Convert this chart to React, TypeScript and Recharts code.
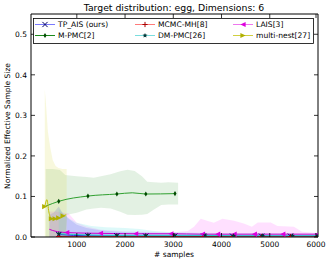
import React from 'react';
import { ComposedChart, Line, Area, XAxis, YAxis } from 'recharts';

const W = 332;
const H = 263;
const MARGIN = { top: 13, right: 13, bottom: 25, left: 30 };
const FONT = '"DejaVu Sans", sans-serif';

const xTicks = [1000, 2000, 3000, 4000, 5000, 6000];
const yTicks = [0, 0.1, 0.2, 0.3, 0.4, 0.5];
const xDomain = [50, 6000];
const yDomain = [0, 0.55];

// ---------- series values ----------
const tpX = [625, 1230, 1830, 2430, 3030, 3630, 4230, 4830, 5430, 6000];
const tpY = [0.006, 0.003, 0.003, 0.002, 0.002, 0.002, 0.002, 0.002, 0.002, 0.002];
const tpBandX = [430, 520, 625, 700, 830, 1000, 1200, 1500, 2000, 3000, 4000, 5000, 6000];
const tpBandHi = [0.055, 0.06, 0.075, 0.06, 0.045, 0.03, 0.022, 0.016, 0.012, 0.009, 0.007, 0.006, 0.005];

const mcmcX = [625, 1230, 1830, 2430, 3030, 3630, 4230, 4830, 5430, 6000];
const mcmcY = [0.001, 0.001, 0.001, 0.001, 0.001, 0.001, 0.001, 0.001, 0.001, 0.001];
const mcmcBandHi = [0.004, 0.003, 0.003, 0.003, 0.003, 0.003, 0.003, 0.003, 0.003, 0.003];

const laisX = [430, 500, 600, 790, 1000, 1490, 2220, 2950, 3605, 3920, 4260, 4680, 5270, 6000];
const laisY = [0.019, 0.016, 0.013, 0.011, 0.01, 0.009, 0.008, 0.008, 0.007, 0.007, 0.007, 0.007, 0.007, 0.007];
const laisMarks = [false, false, false, true, false, true, true, true, true, true, true, true, true, true];
const laisBandX = [430, 600, 830, 1000, 1200, 1500, 2000, 2500, 3000, 3300, 3430, 3570, 3700, 3840, 4020, 4260, 4460, 4630, 4750, 5020, 5160, 5500, 5670, 6000];
const laisBandHi = [0.063, 0.062, 0.058, 0.035, 0.026, 0.018, 0.014, 0.013, 0.012, 0.015, 0.025, 0.045, 0.04, 0.035, 0.045, 0.04, 0.033, 0.025, 0.036, 0.036, 0.027, 0.025, 0.013, 0.01];

const mpmcX = [355, 625, 1230, 1830, 2150, 2430, 3035];
const mpmcY = [0.076, 0.088, 0.101, 0.106, 0.109, 0.106, 0.107];
const mpmcMarks = [false, true, true, true, false, true, true];
const mpmcBandX = [355, 500, 650, 760, 800, 1000, 1200, 1350, 1500, 1700, 1900, 2050, 2200, 2350, 2460, 2600, 2750, 2900, 3100];
const mpmcBandHi = [0.168, 0.168, 0.165, 0.153, 0.152, 0.15, 0.148, 0.146, 0.15, 0.155, 0.162, 0.166, 0.163, 0.15, 0.136, 0.135, 0.134, 0.135, 0.134];
const mpmcBandLo = [0, 0, 0, 0, 0.055, 0.06, 0.068, 0.07, 0.072, 0.07, 0.062, 0.055, 0.054, 0.055, 0.057, 0.068, 0.079, 0.08, 0.08];

const dmX = [625, 1230, 1830, 2430, 3030, 3660, 4250, 4850, 5470, 6000];
const dmY = [0.008, 0.005, 0.004, 0.004, 0.004, 0.004, 0.003, 0.003, 0.003, 0.003];
const dmBandX = [625, 700, 850, 1000, 1300, 1600, 2000, 2300, 2600, 3000, 4000, 5000, 6000];
const dmBandHi = [0.07, 0.06, 0.045, 0.035, 0.027, 0.024, 0.022, 0.02, 0.015, 0.012, 0.01, 0.01, 0.008];

const mnX = [335, 380, 420, 473, 550, 625, 715, 780];
const mnY = [0.075, 0.092, 0.062, 0.045, 0.045, 0.047, 0.052, 0.055];
const mnMarks = [true, false, false, true, true, true, true, false];
const mnBandX = [335, 360, 400, 450, 500, 560, 620, 700, 790];
const mnBandHi = [0.365, 0.33, 0.26, 0.22, 0.19, 0.175, 0.17, 0.168, 0.168];

// ---------- helpers ----------
const pts = (xs: number[], ys: number[], marks?: boolean[]) =>
  xs.map((x, i) => ({ x, y: ys[i], m: marks ? marks[i] : true }));
const band = (xs: number[], hi: number[], lo?: number[]) =>
  xs.map((x, i) => ({ x, band: [lo ? lo[i] : 0, hi[i]] }));

type Shape = 'x' | '+' | '<' | '>' | 'd' | '*';

const Marker = ({ shape, cx, cy, color, s = 2.6 }: { shape: Shape; cx: number; cy: number; color: string; s?: number }) => {
  if (shape === 'x')
    return (
      <g stroke={color} strokeWidth={1}>
        <line x1={cx - s} y1={cy - s} x2={cx + s} y2={cy + s} />
        <line x1={cx - s} y1={cy + s} x2={cx + s} y2={cy - s} />
      </g>
    );
  if (shape === '+')
    return (
      <g stroke={color} strokeWidth={1}>
        <line x1={cx - s} y1={cy} x2={cx + s} y2={cy} />
        <line x1={cx} y1={cy - s} x2={cx} y2={cy + s} />
      </g>
    );
  if (shape === '<')
    return <polygon points={`${cx - s},${cy} ${cx + s},${cy - s} ${cx + s},${cy + s}`} fill={color} />;
  if (shape === '>')
    return <polygon points={`${cx + s},${cy} ${cx - s},${cy - s} ${cx - s},${cy + s}`} fill={color} />;
  if (shape === 'd')
    return <polygon points={`${cx},${cy - s} ${cx + s * 0.6},${cy} ${cx},${cy + s} ${cx - s * 0.6},${cy}`} fill={color} />;
  const p: string[] = [];
  for (let i = 0; i < 10; i++) {
    const r = i % 2 === 0 ? s : s * 0.45;
    const a = -Math.PI / 2 + (i * Math.PI) / 5;
    p.push(`${cx + r * Math.cos(a)},${cy + r * Math.sin(a)}`);
  }
  return <polygon points={p.join(' ')} fill={color} />;
};

const dotFn = (shape: Shape, color: string) => (p: any) => {
  const { cx, cy, payload, index } = p;
  if (!payload || !payload.m || cx == null || cy == null) return <g key={`d${index}`} />;
  return (
    <g key={`d${index}`}>
      <Marker shape={shape} cx={cx} cy={cy} color={color} />
    </g>
  );
};

const series = [
  { name: 'TP_AIS (ours)', line: '#2a2ad0', legend: '#7a7aff', marker: '#000066', shape: 'x' as Shape, data: pts(tpX, tpY), band: band(tpBandX, tpBandHi), bandFill: '#3030ff', bandOp: 0.18 },
  { name: 'MCMC-MH[8]', line: '#e03030', legend: '#ff7a7a', marker: '#aa0000', shape: '+' as Shape, data: pts(mcmcX, mcmcY), band: band(mcmcX, mcmcBandHi), bandFill: '#ff3030', bandOp: 0.15 },
  { name: 'LAIS[3]', line: '#cc00cc', legend: '#ee77ee', marker: '#dd00dd', shape: '<' as Shape, data: pts(laisX, laisY, laisMarks), band: band(laisBandX, laisBandHi), bandFill: '#ff40ff', bandOp: 0.16 },
  { name: 'M-PMC[2]', line: '#30a030', legend: '#1a8a1a', marker: '#004a00', shape: 'd' as Shape, data: pts(mpmcX, mpmcY, mpmcMarks), band: band(mpmcBandX, mpmcBandHi, mpmcBandLo), bandFill: '#40a040', bandOp: 0.15 },
  { name: 'DM-PMC[26]', line: '#20c8c8', legend: '#7adede', marker: '#003838', shape: '*' as Shape, data: pts(dmX, dmY), band: band(dmBandX, dmBandHi), bandFill: '#40e0e0', bandOp: 0.18 },
  { name: 'multi-nest[27]', line: '#c0c000', legend: '#d0d040', marker: '#b0b000', shape: '>' as Shape, data: pts(mnX, mnY, mnMarks), band: band(mnBandX, mnBandHi), bandFill: '#d8d840', bandOp: 0.18 },
];

// ---------- ticks ----------
const BottomTick = (p: any) => (
  <g>
    <line x1={p.x} y1={p.y} x2={p.x} y2={p.y - 4} stroke="#000" strokeWidth={0.8} />
    <text x={p.x} y={p.y + 10} textAnchor="middle" fontSize={7.5} fontFamily={FONT} fill="#000">
      {p.payload.value}
    </text>
  </g>
);
const TopTick = (p: any) => <line x1={p.x} y1={p.y} x2={p.x} y2={p.y + 4} stroke="#000" strokeWidth={0.8} />;
const LeftTick = (p: any) => (
  <g>
    <line x1={p.x} y1={p.y} x2={p.x + 4} y2={p.y} stroke="#000" strokeWidth={0.8} />
    <text x={p.x - 4} y={p.y + 2.7} textAnchor="end" fontSize={7.5} fontFamily={FONT} fill="#000">
      {Number(p.payload.value).toFixed(1)}
    </text>
  </g>
);
const RightTick = (p: any) => <line x1={p.x} y1={p.y} x2={p.x - 4} y2={p.y} stroke="#000" strokeWidth={0.8} />;

const legendCols = [35, 135, 233];
const legendRows = [24.5, 35.5];

export default function App() {
  return (
    <div style={{ position: 'absolute', left: 0, top: 0, width: W, height: H, background: '#fff' }}>
      <ComposedChart width={W} height={H} margin={MARGIN}>
        <XAxis xAxisId="b" dataKey="x" type="number" domain={xDomain} ticks={xTicks} allowDataOverflow
          orientation="bottom" height={1} tickSize={0} tickMargin={0} tick={<BottomTick />} axisLine={{ stroke: '#000', strokeWidth: 1 }} tickLine={false} />
        <XAxis xAxisId="t" dataKey="x" type="number" domain={xDomain} ticks={xTicks} allowDataOverflow
          orientation="top" height={1} tickSize={0} tickMargin={0} tick={<TopTick />} axisLine={{ stroke: '#000', strokeWidth: 1 }} tickLine={false} />
        <YAxis yAxisId="l" type="number" domain={yDomain} ticks={yTicks} allowDataOverflow
          orientation="left" width={1} tickSize={0} tickMargin={0} tick={<LeftTick />} axisLine={{ stroke: '#000', strokeWidth: 1 }} tickLine={false} />
        <YAxis yAxisId="r" type="number" domain={yDomain} ticks={yTicks} allowDataOverflow
          orientation="right" width={1} tickSize={0} tickMargin={0} tick={<RightTick />} axisLine={{ stroke: '#000', strokeWidth: 1 }} tickLine={false} />
        {series.map((s) => (
          <Area key={`a-${s.name}`} xAxisId="b" yAxisId="l" data={s.band} dataKey="band" type="linear"
            stroke="none" fill={s.bandFill} fillOpacity={s.bandOp} isAnimationActive={false} activeDot={false} />
        ))}
        {series.map((s) => (
          <Line key={`l-${s.name}`} xAxisId="b" yAxisId="l" data={s.data} dataKey="y" type="monotone"
            stroke={s.line} strokeWidth={1} dot={dotFn(s.shape, s.marker)} activeDot={false} isAnimationActive={false} />
        ))}
      </ComposedChart>
      <svg width={W} height={H} style={{ position: 'absolute', left: 0, top: 0, pointerEvents: 'none' }}>
        <text x={174} y={10.5} textAnchor="middle" fontSize={9.3} fontFamily={FONT} fill="#000">
          Target distribution: egg, Dimensions: 6
        </text>
        <text x={174} y={257} textAnchor="middle" fontSize={7.5} fontFamily={FONT} fill="#000">
          # samples
        </text>
        <text x={10} y={126} textAnchor="middle" fontSize={7.5} fontFamily={FONT} fill="#000" transform="rotate(-90 10 126)">
          Normalized Effective Sample Size
        </text>
        <rect x={33.5} y={18.5} width={280} height={25} fill="#fff" stroke="#000" strokeWidth={0.8} />
        {series.map((s, i) => {
          const x = legendCols[i % 3];
          const y = legendRows[Math.floor(i / 3)];
          return (
            <g key={`lg-${s.name}`}>
              <line x1={x} y1={y} x2={x + 20} y2={y} stroke={s.legend} strokeWidth={1} />
              <Marker shape={s.shape} cx={x + 10} cy={y} color={s.marker} />
              <text x={x + 23} y={y + 2.8} fontSize={7.6} fontFamily={FONT} fill="#000">
                {s.name}
              </text>
            </g>
          );
        })}
      </svg>
    </div>
  );
}
